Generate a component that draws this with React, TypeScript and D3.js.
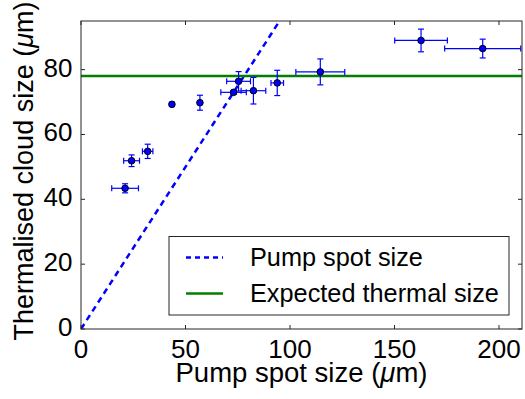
import { useEffect, useRef } from "react";
import * as d3 from "d3";

// pump spot size (um) and thermalised cloud size (um), with errors
const pumpSize = [21.1, 24.2, 31.9, 43.5, 56.9, 73.0, 75.4, 82.5, 93.9, 114.5, 162.7, 192.2];
const pumpErr = [6.4, 3.8, 2.5, 0.8, 0.3, 6.1, 5.7, 5.9, 3.0, 11.7, 12.6, 18.2];
const cloudSize = [43.4, 51.9, 54.8, 69.3, 69.8, 73.0, 76.4, 73.5, 75.9, 79.3, 89.0, 86.5];
const cloudErr = [1.4, 1.8, 2.2, 0.6, 2.3, 0.6, 3.0, 4.1, 3.9, 4.0, 3.5, 2.9];

const xTicks = [0, 50, 100, 150, 200];
const yTicks = [0, 20, 40, 60, 80];
const expectedThermal = 78;
const legendLabels = ["Pump spot size", "Expected thermal size"];

const width = 525;
const height = 399;
const margin = { left: 81, right: 3, top: 21, bottom: 70 };
const font = "'Liberation Sans', Arial, Helvetica, sans-serif";

const App = () => {
  const svgRef = useRef<SVGSVGElement | null>(null);

  useEffect(() => {
    if (!svgRef.current) return;
    const svg = d3.select(svgRef.current);
    svg.selectAll("*").remove();

    const x0 = margin.left;
    const x1 = width - margin.right;
    const y0 = height - margin.bottom;
    const y1 = margin.top;

    const xScale = d3.scaleLinear().domain([0, 211]).range([x0, x1]);
    const yScale = d3.scaleLinear().domain([0, 95]).range([y0, y1]);

    svg.append("rect").attr("width", width).attr("height", height).attr("fill", "white");

    svg
      .append("defs")
      .append("clipPath")
      .attr("id", "plotclip")
      .append("rect")
      .attr("x", x0)
      .attr("y", y1)
      .attr("width", x1 - x0)
      .attr("height", y0 - y1);

    const plot = svg.append("g").attr("clip-path", "url(#plotclip)");

    // y = x pump spot line
    const line = d3
      .line<number>()
      .x((d) => xScale(d))
      .y((d) => yScale(d));
    plot
      .append("path")
      .attr("d", line([0, 100]))
      .attr("fill", "none")
      .attr("stroke", "#0000ff")
      .attr("stroke-width", 2.5)
      .attr("stroke-dasharray", "6,4.5");

    // expected thermal size
    plot
      .append("line")
      .attr("x1", xScale(0))
      .attr("x2", xScale(211))
      .attr("y1", yScale(expectedThermal))
      .attr("y2", yScale(expectedThermal))
      .attr("stroke", "#008000")
      .attr("stroke-width", 2.5);

    // error bars
    const cap = 3;
    const eb = plot.append("g").attr("stroke", "#0000ff").attr("stroke-width", 1.2).attr("fill", "none");
    pumpSize.forEach((px, i) => {
      const cx = xScale(px);
      const cy = yScale(cloudSize[i]);
      const xl = xScale(px - pumpErr[i]);
      const xr = xScale(px + pumpErr[i]);
      const yt = yScale(cloudSize[i] + cloudErr[i]);
      const yb = yScale(cloudSize[i] - cloudErr[i]);
      eb.append("line").attr("x1", xl).attr("x2", xr).attr("y1", cy).attr("y2", cy);
      eb.append("line").attr("x1", xl).attr("x2", xl).attr("y1", cy - cap).attr("y2", cy + cap);
      eb.append("line").attr("x1", xr).attr("x2", xr).attr("y1", cy - cap).attr("y2", cy + cap);
      eb.append("line").attr("x1", cx).attr("x2", cx).attr("y1", yt).attr("y2", yb);
      eb.append("line").attr("x1", cx - cap).attr("x2", cx + cap).attr("y1", yt).attr("y2", yt);
      eb.append("line").attr("x1", cx - cap).attr("x2", cx + cap).attr("y1", yb).attr("y2", yb);
    });

    plot
      .append("g")
      .selectAll("circle")
      .data(pumpSize)
      .join("circle")
      .attr("cx", (d) => xScale(d))
      .attr("cy", (d, i) => yScale(cloudSize[i]))
      .attr("r", 3.3)
      .attr("fill", "#0000ff")
      .attr("stroke", "#000")
      .attr("stroke-width", 1);

    // frame + inward ticks on all sides
    const axes = svg.append("g").attr("stroke", "#262626").attr("stroke-width", 1);
    axes
      .append("rect")
      .attr("x", x0)
      .attr("y", y1)
      .attr("width", x1 - x0)
      .attr("height", y0 - y1)
      .attr("fill", "none");
    const tl = 4;
    xTicks.forEach((t) => {
      const x = xScale(t);
      axes.append("line").attr("x1", x).attr("x2", x).attr("y1", y0).attr("y2", y0 - tl);
      axes.append("line").attr("x1", x).attr("x2", x).attr("y1", y1).attr("y2", y1 + tl);
    });
    yTicks.forEach((t) => {
      const y = yScale(t);
      axes.append("line").attr("x1", x0).attr("x2", x0 + tl).attr("y1", y).attr("y2", y);
      axes.append("line").attr("x1", x1).attr("x2", x1 - tl).attr("y1", y).attr("y2", y);
    });

    const text = svg.append("g").attr("font-family", font).attr("fill", "#000");
    xTicks.forEach((t) => {
      text
        .append("text")
        .attr("x", xScale(t))
        .attr("y", 357.7)
        .attr("text-anchor", "middle")
        .attr("font-size", 26)
        .text(t);
    });
    yTicks.forEach((t) => {
      text
        .append("text")
        .attr("x", x0 - 8.5)
        .attr("y", yScale(t) + 7)
        .attr("text-anchor", "end")
        .attr("font-size", 26)
        .text(t);
    });

    const xl = text
      .append("text")
      .attr("x", (x0 + x1) / 2)
      .attr("y", 382)
      .attr("text-anchor", "middle")
      .attr("font-size", 27.5);
    xl.append("tspan").text("Pump spot size (");
    xl.append("tspan").attr("font-style", "italic").text("\u03bc");
    xl.append("tspan").text("m)");

    const yl = text
      .append("text")
      .attr("transform", `translate(33,${(y0 + y1) / 2 - 4}) rotate(-90)`)
      .attr("text-anchor", "middle")
      .attr("font-size", 27);
    yl.append("tspan").text("Thermalised cloud size (");
    yl.append("tspan").attr("font-style", "italic").text("\u03bc");
    yl.append("tspan").text("m)");

    // legend
    const lg = svg.append("g");
    lg.append("rect")
      .attr("x", 169)
      .attr("y", 236.5)
      .attr("width", 340)
      .attr("height", 78.5)
      .attr("fill", "white")
      .attr("stroke", "#262626")
      .attr("stroke-width", 1);
    const rows = [257.5, 293.5];
    lg.append("line")
      .attr("x1", 186)
      .attr("x2", 223)
      .attr("y1", rows[0])
      .attr("y2", rows[0])
      .attr("stroke", "#0000ff")
      .attr("stroke-width", 2.5)
      .attr("stroke-dasharray", "5,4");
    lg.append("line")
      .attr("x1", 186)
      .attr("x2", 223)
      .attr("y1", rows[1])
      .attr("y2", rows[1])
      .attr("stroke", "#008000")
      .attr("stroke-width", 2.5);
    legendLabels.forEach((l, i) => {
      lg.append("text")
        .attr("x", 250)
        .attr("y", rows[i] + 8)
        .attr("font-family", font)
        .attr("font-size", 25.3)
        .text(l);
    });
  }, []);

  return (
    <div>
      <style>{`body{margin:0}`}</style>
      <svg ref={svgRef} width={width} height={height} style={{ display: "block" }} />
    </div>
  );
};

export default App;
